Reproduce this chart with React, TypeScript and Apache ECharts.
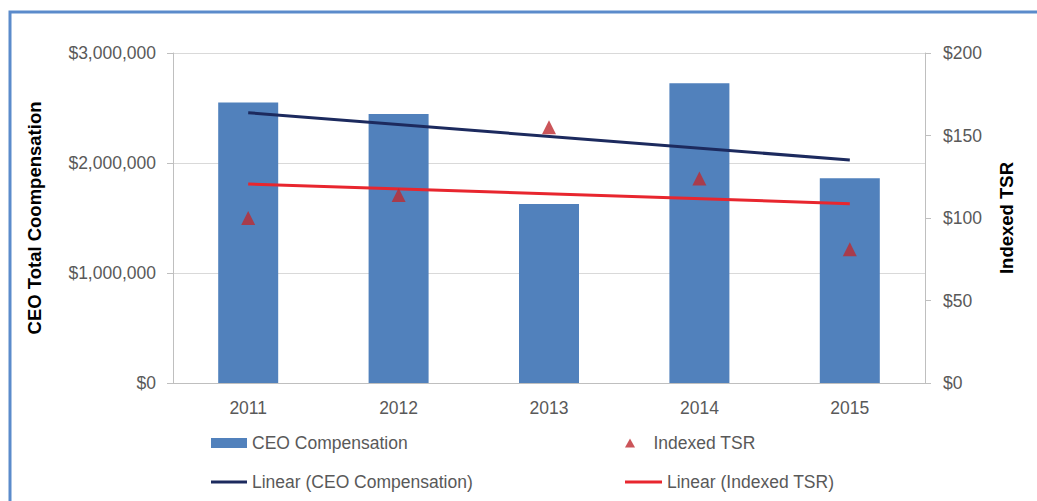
import React, { useEffect, useRef } from 'react';
import * as echarts from 'echarts';

const years = ['2011', '2012', '2013', '2014', '2015'];
const ceoCompensation = [2550000, 2445000, 1627000, 2724000, 1861000];
const indexedTSR = [100, 114, 155, 124, 81];
// Trend line end points (first and last year)
const ceoTrend = [2457000, null, null, null, 2027000];
const tsrTrend = [120.6, null, null, null, 108.7];

const leftMin = 0;
const leftMax = 3000000;
const leftInterval = 1000000;
const rightMin = 0;
const rightMax = 200;
const rightInterval = 50;

const FONT = 'Liberation Sans';
const LABEL = '#595959';

function money(v: number) {
  return '$' + Math.round(v).toString().replace(/\B(?=(\d{3})+(?!\d))/g, ',');
}

export default function App() {
  const ref = useRef<HTMLDivElement>(null);
  useEffect(() => {
    if (!ref.current) return;
    const chart = echarts.init(ref.current, undefined, { renderer: 'svg' });
    const legendText = { color: LABEL, fontSize: 17.5, fontFamily: FONT, lineHeight: 18 };
    chart.setOption({
      animation: false,
      backgroundColor: '#ffffff',
      textStyle: { fontFamily: FONT },
      graphic: [
        {
          type: 'rect',
          shape: { x: 10, y: 12, width: 1200, height: 700 },
          style: { fill: 'none', stroke: '#5B8BCB', lineWidth: 3 },
          silent: true,
        },
      ],
      grid: { left: 173, right: 112, top: 53, bottom: 118, containLabel: false },
      legend: [
        {
          data: ['CEO Compensation'],
          left: 211, top: 434, padding: 0, itemWidth: 36, itemHeight: 10, icon: 'rect',
          textStyle: legendText,
        },
        {
          data: ['Indexed TSR'],
          left: 625, top: 434, padding: 0, itemWidth: 37, itemHeight: 9,
          icon: 'path://M5,0L10,9L0,9Z',
          textStyle: legendText,
        },
        {
          data: ['Linear (CEO Compensation)'],
          left: 211, top: 473, padding: 0, itemWidth: 36, itemHeight: 3, icon: 'rect',
          textStyle: legendText,
        },
        {
          data: ['Linear (Indexed TSR)'],
          left: 625, top: 473, padding: 0, itemWidth: 37, itemHeight: 3, icon: 'rect',
          textStyle: legendText,
        },
      ],
      xAxis: {
        type: 'category',
        data: years,
        boundaryGap: true,
        axisLine: { show: true, lineStyle: { color: '#BFBFBF', width: 1 } },
        axisTick: { show: false },
        axisLabel: { color: LABEL, fontSize: 17.5, fontFamily: FONT, margin: 16 },
      },
      yAxis: [
        {
          type: 'value',
          min: leftMin,
          max: leftMax,
          interval: leftInterval,
          name: 'CEO Total Coompensation',
          nameLocation: 'middle',
          nameGap: 129,
          nameTextStyle: { color: '#000', fontSize: 18.5, fontWeight: 'bold', fontFamily: FONT },
          axisLine: { show: true, lineStyle: { color: '#BFBFBF', width: 1 } },
          axisTick: { show: true, length: 6, lineStyle: { color: '#BFBFBF' } },
          axisLabel: { color: LABEL, fontSize: 17.5, fontFamily: FONT, margin: 17, formatter: (v: number) => money(v) },
          splitLine: { show: true, lineStyle: { color: '#D9D9D9', width: 1 } },
        },
        {
          type: 'value',
          min: rightMin,
          max: rightMax,
          interval: rightInterval,
          position: 'right',
          name: 'Indexed TSR',
          nameLocation: 'middle',
          nameGap: 72,
          nameTextStyle: { color: '#000', fontSize: 18.5, fontWeight: 'bold', fontFamily: FONT },
          axisLine: { show: true, lineStyle: { color: '#BFBFBF', width: 1 } },
          axisTick: { show: true, length: 6, lineStyle: { color: '#BFBFBF' } },
          axisLabel: { color: LABEL, fontSize: 17.5, fontFamily: FONT, margin: 18, formatter: (v: number) => money(v) },
          splitLine: { show: false },
        },
      ],
      series: [
        {
          name: 'CEO Compensation',
          type: 'bar',
          data: ceoCompensation,
          barWidth: 60,
          itemStyle: { color: '#5181BC' },
          yAxisIndex: 0,
        },
        {
          name: 'Linear (CEO Compensation)',
          type: 'line',
          data: ceoTrend,
          connectNulls: true,
          symbol: 'none',
          yAxisIndex: 0,
          lineStyle: { color: '#1C2A5E', width: 3 },
          itemStyle: { color: '#1C2A5E' },
        },
        {
          name: 'Linear (Indexed TSR)',
          type: 'line',
          data: tsrTrend,
          connectNulls: true,
          symbol: 'none',
          yAxisIndex: 1,
          lineStyle: { color: '#E8262E', width: 3 },
          itemStyle: { color: '#E8262E' },
        },
        {
          name: 'Indexed TSR',
          type: 'scatter',
          data: indexedTSR,
          yAxisIndex: 1,
          symbol: 'triangle',
          symbolSize: [14, 14],
          itemStyle: { color: '#BE2A2F' },
          z: 5,
        },
      ],
    });
    return () => chart.dispose();
  }, []);
  return (
    <div
      ref={ref}
      style={{ position: 'absolute', left: 0, top: 0, width: 1037, height: 501, background: '#fff' }}
    />
  );
}
